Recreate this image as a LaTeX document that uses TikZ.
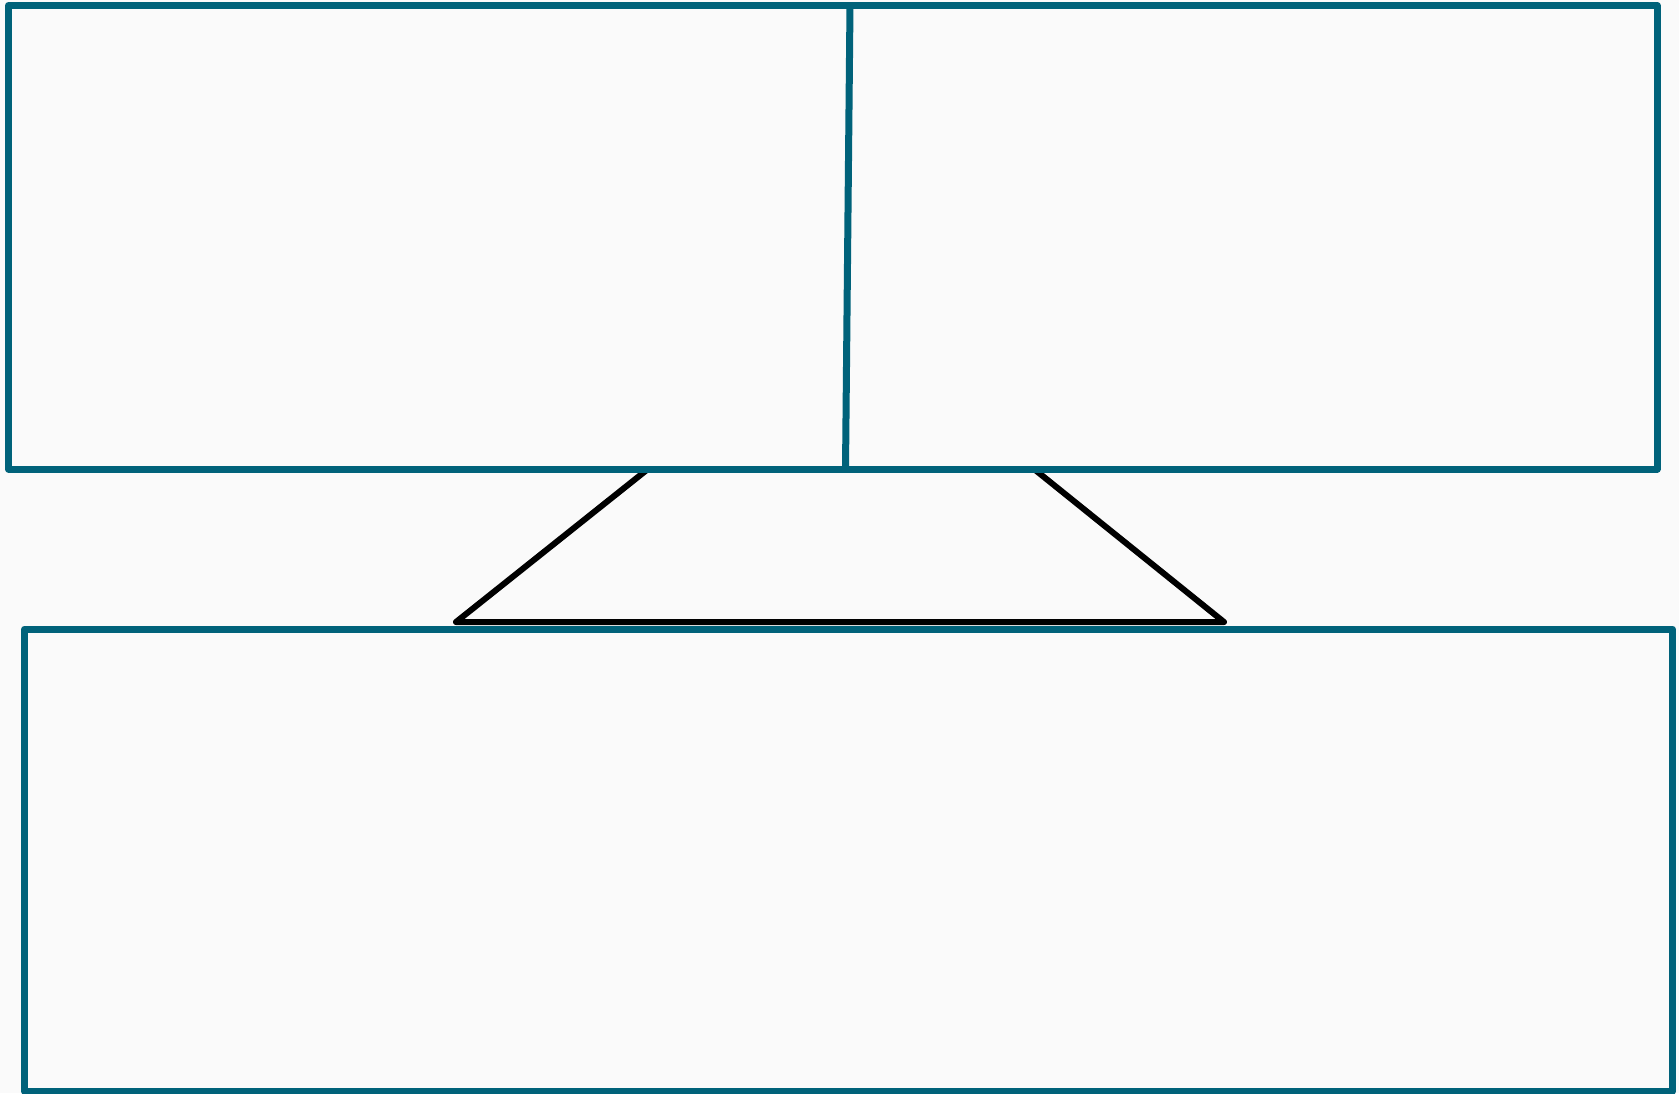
\documentclass[tikz,border=0pt]{standalone}
\definecolor{boxteal}{RGB}{0,98,122}
\definecolor{paper}{RGB}{250,250,250}
\tikzset{
  panel/.style={draw=boxteal, line width=7pt, line join=round, line cap=round},
  stand/.style={draw=black, line width=6pt, line join=round, line cap=round}
}
\begin{document}
\begin{tikzpicture}[x=1pt,y=-1pt]
  \fill[paper] (0,0) rectangle (1679,1093);
  \useasboundingbox (0,0) rectangle (1679,1093);
  % stand (trapezoid)
  \coordinate (tl) at (648,469);
  \coordinate (tr) at (1034,469);
  \coordinate (bl) at (456,622);
  \coordinate (br) at (1224,622);
  \draw[stand] (tl) -- (bl) -- (br) -- (tr);
  % top panel
  \coordinate (a1) at (8.5,5.5);
  \coordinate (a2) at (1657,469);
  \coordinate (d1) at (850,5.5);
  \coordinate (d2) at (845.5,469);
  \draw[panel] (a1) rectangle (a2);
  \draw[panel] (d1) -- (d2);
  % bottom panel
  \coordinate (b1) at (24.5,629);
  \coordinate (b2) at (1672.5,1091);
  \draw[panel] (b1) rectangle (b2);
\end{tikzpicture}
\end{document}
